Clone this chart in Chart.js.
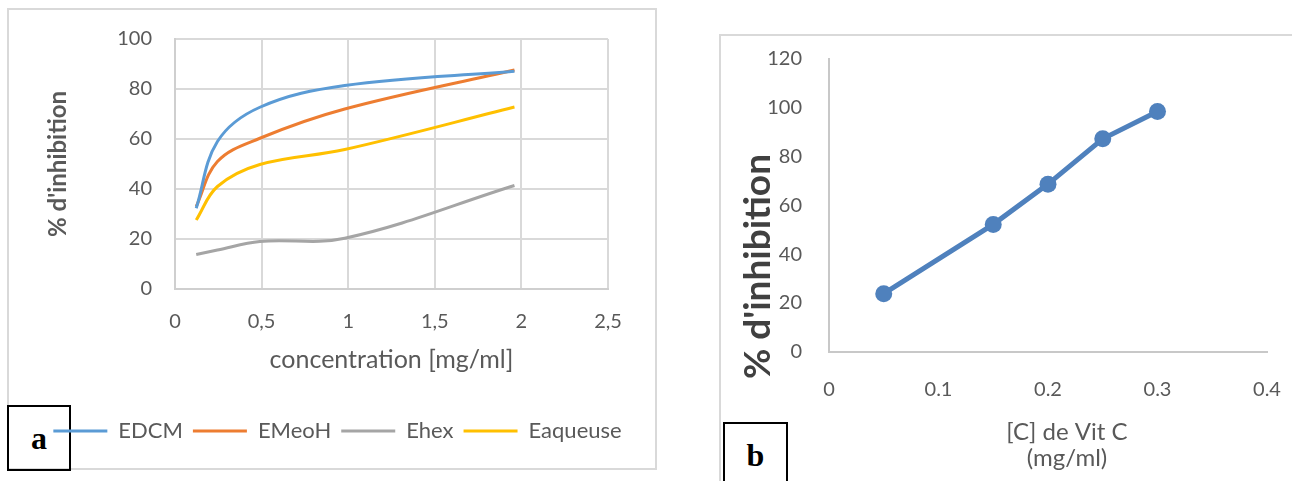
<!DOCTYPE html>
<html>
<head>
<meta charset="utf-8">
<script src="https://cdn.jsdelivr.net/npm/chart.js@4.4.1/dist/chart.umd.min.js"></script>
<style>
    html, body {
        margin: 0;
        padding: 0;
        background: #fff;
        overflow: hidden;
    }
    #page {
        position: relative;
        width: 1292px;
        height: 481px;
        overflow: hidden;
    }
    .frame {
        position: absolute;
        box-sizing: border-box;
        border: 2px solid #d9d9d9;
    }
    .tag {
        position: absolute;
        box-sizing: border-box;
        border: 2px solid #000;
        font-family: 'Liberation Serif', 'Times New Roman', serif;
        font-weight: bold;
        font-size: 32px;
        text-align: center;
        color: #000;
    }
    canvas {
        position: absolute;
    }
</style>
</head>
<body>
<div id="page">
    <div class="frame" style="left:7px; top:8px; width:650px; height:462px;"></div>
    <div class="frame" style="left:719px; top:34px; width:640px; height:500px;"></div>
    <div class="tag" style="left:7px; top:405px; width:64px; height:66px; line-height:62px;">a</div>
    <div class="tag" style="left:723px; top:422px; width:65px; height:80px; line-height:62px;">b</div>
    <canvas id="chartA" width="675" height="481" style="left:0; top:0;"></canvas>
    <canvas id="chartB" width="682" height="462" style="left:700px; top:20px;"></canvas>
</div>
<script>
Chart.defaults.font.family = 'Lato, Carlito, "Open Sans", sans-serif';
Chart.defaults.color = '#595959';
Chart.defaults.animation = false;

// Panel a: extracts
const concA = [0.1225, 0.245, 0.49, 0.98, 1.96];
const edcm = [32.3, 59, 72.7, 81.4, 87.1];
const emeoh = [33, 51, 60.3, 72, 87.6];
const ehex = [13.8, 15.6, 19, 20.3, 41.4];
const eaqueuse = [27.6, 41, 49.8, 55.8, 72.8];
const seriesNamesA = ['EDCM', 'EMeoH', 'Ehex', 'Eaqueuse'];
const seriesColorsA = ['#5b9bd5', '#ed7d31', '#a5a5a5', '#ffc000'];
const xTicksA = ['0', '0,5', '1', '1,5', '2', '2,5'];

// Panel b: vitamin C
const concB = [0.05, 0.15, 0.2, 0.25, 0.3];
const vitC = [23.8, 52.2, 68.7, 87.3, 98.5];

function toPoints(xs, ys) {
    return xs.map((x, i) => ({ x: x, y: ys[i] }));
}

// Chart a
const valuesA = [edcm, emeoh, ehex, eaqueuse];
const chartA = new Chart(document.getElementById('chartA'), {
    type: 'line',
    data: {
        datasets: valuesA.map((vals, i) => ({
            label: seriesNamesA[i],
            data: toPoints(concA, vals),
            borderColor: seriesColorsA[i],
            backgroundColor: seriesColorsA[i],
            borderWidth: 3,
            pointRadius: 0,
            tension: 0.37,
            fill: false
        }))
    },
    options: {
        responsive: false,
        devicePixelRatio: 1,
        layout: {
            padding: { top: 39, bottom: 29, left: 0, right: 0 }
        },
        plugins: {
            legend: {
                position: 'bottom',
                labels: {
                    usePointStyle: true,
                    pointStyle: 'line',
                    pointStyleWidth: 54,
                    padding: 10,
                    color: '#595959',
                    font: { size: 22 }
                }
            },
            tooltip: { enabled: false }
        },
        scales: {
            x: {
                type: 'linear',
                min: 0,
                max: 2.5,
                ticks: {
                    stepSize: 0.5,
                    padding: 21,
                    font: { size: 20 },
                    callback: function(value, index) {
                        return xTicksA[index];
                    }
                },
                grid: { color: '#d9d9d9', lineWidth: 2, drawTicks: false },
                border: { color: '#cfcfcf', width: 2 },
                title: {
                    display: true,
                    text: 'concentration [mg/ml]',
                    font: { size: 25 },
                    padding: { top: 0, bottom: 35 }
                },
                afterFit: function(scale) {
                    scale.height = 121;
                }
            },
            y: {
                min: 0,
                max: 100,
                ticks: {
                    stepSize: 20,
                    padding: 23,
                    font: { size: 20 }
                },
                grid: { color: '#d9d9d9', lineWidth: 2, drawTicks: false },
                border: { color: '#cfcfcf', width: 2 },
                title: {
                    display: true,
                    text: "% d'inhibition",
                    font: { size: 24, weight: 'bold' },
                    padding: { top: 44, bottom: 0 }
                },
                afterFit: function(scale) {
                    scale.width = 175;
                }
            },
            yR: {
                type: 'linear',
                axis: 'y',
                position: 'right',
                ticks: { display: false },
                grid: { display: false },
                border: { display: false },
                afterFit: function(scale) {
                    scale.width = 675 - 608;
                }
            }
        }
    }
});

// Chart b
const chartB = new Chart(document.getElementById('chartB'), {
    type: 'line',
    data: {
        datasets: [{
            label: 'Vit C',
            data: toPoints(concB, vitC),
            borderColor: '#4f81bd',
            backgroundColor: '#4f81bd',
            borderWidth: 5,
            pointRadius: 8.5,
            pointBorderWidth: 0,
            pointBackgroundColor: '#4f81bd',
            tension: 0
        }]
    },
    options: {
        responsive: false,
        devicePixelRatio: 1,
        layout: {
            padding: { top: 31, bottom: 0, left: 52, right: 0 }
        },
        plugins: {
            legend: { display: false },
            tooltip: { enabled: false },
            title: {
                display: true,
                position: 'left',
                text: "% d'inhibition",
                color: '#404040',
                font: { size: 37, weight: 'bold', lineHeight: 0.34 },
                padding: { top: 0, bottom: 0 }
            },
            subtitle: {
                display: true,
                position: 'bottom',
                text: ['[C] de Vit C', '(mg/ml)'],
                color: '#595959',
                font: { size: 24, lineHeight: 1.11 },
                padding: { top: 0, bottom: 10 }
            }
        },
        scales: {
            x: {
                type: 'linear',
                min: 0,
                max: 0.4,
                ticks: {
                    stepSize: 0.1,
                    padding: 26,
                    font: { size: 20 }
                },
                grid: { display: false, drawTicks: false },
                border: { color: '#c8c8c8', width: 2 },
                afterFit: function(scale) {
                    scale.height = 67;
                }
            },
            y: {
                min: 0,
                max: 120,
                ticks: {
                    stepSize: 20,
                    padding: 27,
                    font: { size: 20 }
                },
                grid: { display: false, drawTicks: false },
                border: { color: '#c8c8c8', width: 2 },
                afterFit: function(scale) {
                    scale.width = 129 - 52 - 12.6;
                }
            },
            yR: {
                type: 'linear',
                axis: 'y',
                position: 'right',
                ticks: { display: false },
                grid: { display: false },
                border: { display: false },
                afterFit: function(scale) {
                    scale.width = 682 - 567;
                }
            }
        }
    }
});
</script>
</body>
</html>
